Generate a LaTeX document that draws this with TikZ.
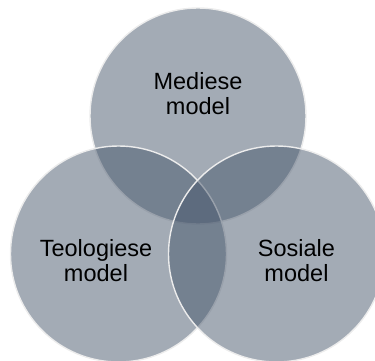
\documentclass[tikz,border=0pt]{standalone}
\usepackage{fontspec}
\setmainfont{Liberation Sans}
\definecolor{venn}{RGB}{71,87,108}
\definecolor{rim}{RGB}{236,236,236}
\tikzset{
  vcircle/.style={circle, minimum size=216pt, inner sep=0pt, fill=venn, fill opacity=0.5, draw=rim, draw opacity=1, line width=1.4pt},
  vlabel/.style={align=center, font=\fontsize{23.5}{25}\selectfont, text=black, inner sep=0pt}
}
\begin{document}
\begin{tikzpicture}[x=1pt,y=-1pt]
\useasboundingbox (0,0) rectangle (375,361);
\clip (0,0) rectangle (375,361);
\node[vcircle] (top) at (198,116) {};
\node[vcircle] (left) at (118.5,254) {};
\node[vcircle] (right) at (276.5,254) {};
\node[vlabel] (tl) at (198,94) {Mediese\\model};
\node[vlabel] (ll) at (96,261) {Teologiese\\model};
\node[vlabel] (rl) at (296.5,261) {Sosiale\\model};
\end{tikzpicture}
\end{document}
